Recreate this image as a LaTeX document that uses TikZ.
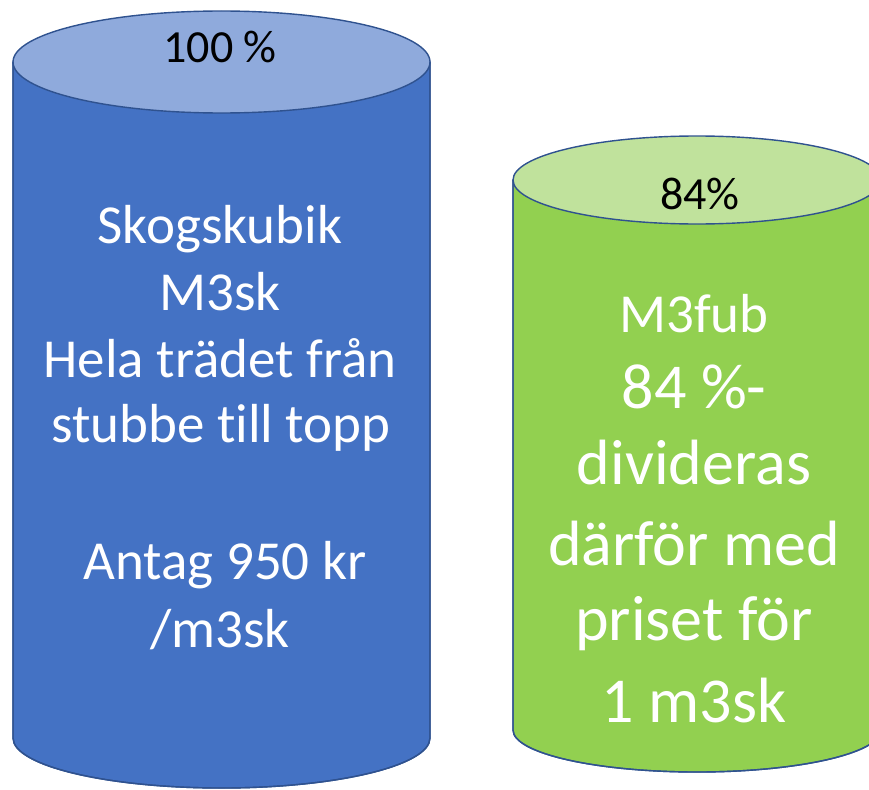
\documentclass[tikz,border=0pt]{standalone}
\usepackage{fontspec}
\setmainfont{Carlito}[Ligatures=NoCommon]
\definecolor{bluebody}{HTML}{4472C4}
\definecolor{bluetop}{HTML}{8FAADC}
\definecolor{greenbody}{HTML}{92D050}
\definecolor{greentop}{HTML}{C0E29C}
\definecolor{edge}{HTML}{2F528F}
\tikzset{
  cyl/.style={draw=edge, line width=1.4pt},
  wtxt/.style={text=white, inner sep=0pt, anchor=base},
  btxt/.style={text=black, inner sep=0pt, anchor=base, font=\fontsize{46}{56}\selectfont},
  bigA/.style={wtxt, font=\fontsize{55}{67}\selectfont},
  bigB/.style={wtxt, font=\fontsize{64}{78}\selectfont},
}
\begin{document}
\begin{tikzpicture}[x=1pt,y=-1pt]
\useasboundingbox (0,0) rectangle (869,789);
\clip (0,0) rectangle (869,789);
% blue cylinder
\path[cyl, fill=bluebody] (13,62) -- (13,738) arc[start angle=180, end angle=360, x radius=208.5pt, y radius=50pt] -- (430,62) -- cycle;
\draw[cyl, fill=bluetop] (221.5,62) ellipse [x radius=208.5pt, y radius=51pt];
\draw[cyl] (13,62) -- (13,738) arc[start angle=180, end angle=360, x radius=208.5pt, y radius=50pt] -- (430,62);
% green cylinder
\path[cyl, fill=greenbody] (513,180) -- (513,730) arc[start angle=180, end angle=360, x radius=184pt, y radius=42pt] -- (881,180) -- cycle;
\draw[cyl, fill=greentop] (697,180) ellipse [x radius=184pt, y radius=44pt];
\draw[cyl] (513,180) -- (513,730) arc[start angle=180, end angle=360, x radius=184pt, y radius=42pt] -- (881,180);
% labels
\node[btxt] (p100) at (220,63) {100 \%};
\node[btxt] (p84) at (700,209) {84\%};
\node[bigA] (b1) at (220,243) {Skogskubik};
\node[bigA] (b2) at (220,310) {M3sk};
\node[bigA] (b3) at (220,377) {Hela trädet från};
\node[bigA] (b4) at (221,442) {stubbe till topp};
\node[bigA] (b5) at (225,579) {Antag 950 kr};
\node[bigA] (b6) at (220,647) {/m3sk};
\node[bigA] (g1) at (694,332) {M3fub};
\node[bigB] (g2) at (694,408) {84 \%-};
\node[bigB] (g3) at (694,484) {divideras};
\node[bigB] (g4) at (694,565) {därför med};
\node[bigB] (g5) at (694,640) {priset för};
\node[bigB] (g6) at (694,722) {1 m3sk};
\end{tikzpicture}
\end{document}
